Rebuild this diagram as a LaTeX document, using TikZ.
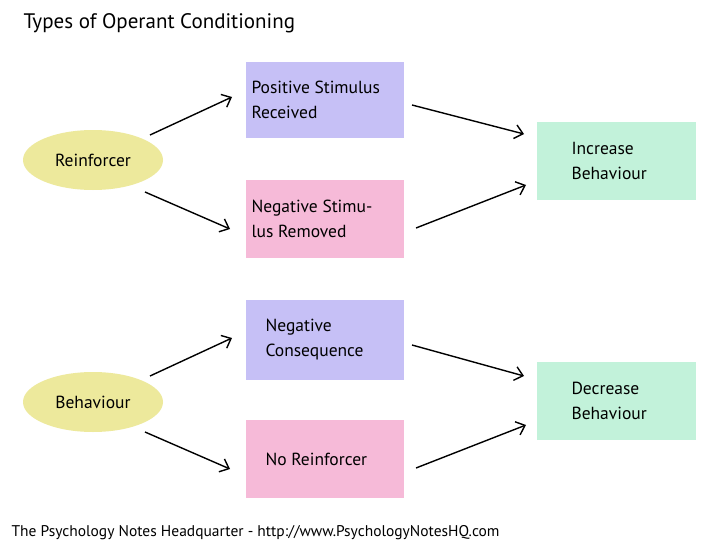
\documentclass[tikz,border=0pt]{standalone}
\usepackage{fontspec}
\setmainfont{PT Sans}
\usetikzlibrary{shapes.geometric,arrows.meta}
\definecolor{yel}{HTML}{EDE99C}
\definecolor{lav}{HTML}{C6C0F6}
\definecolor{pnk}{HTML}{F6BAD8}
\definecolor{mnt}{HTML}{C2F2DA}
\begin{document}
\begin{tikzpicture}[x=1pt,y=-1pt,
 box/.style={draw=none,minimum width=158pt,minimum height=77pt},
 ell/.style={ellipse,fill=yel,minimum width=140pt,minimum height=60pt},
 txt/.style={font=\fontsize{17.5}{25}\selectfont,align=left,anchor=west},
 arr/.style={draw,line width=1.4pt,-{Straight Barb[length=8pt,width=14pt]}}]
\useasboundingbox[fill=white] (0,0) rectangle (720,551);
\node[anchor=west,font=\fontsize{21}{24}\selectfont] (title) at (20,23) {Types of Operant Conditioning};
% top
\node[ell] (reinf) at (93,160) {};
\node[txt,anchor=center] (reinft) at (93,160) {Reinforcer};
\fill[lav] (246,62) rectangle (404,138); \node[box] (pos) at (325,100) {};
\node[txt] (post) at (248,100) {Positive Stimulus\\Received};
\fill[pnk] (246,180) rectangle (404,258); \node[box] (neg) at (325,219) {};
\node[txt] (negt) at (248,219) {Negative Stimu-\\lus Removed};
\fill[mnt] (537,122) rectangle (696,200); \node[box] (inc) at (616,161) {};
\node[txt] (inct) at (568,161) {Increase\\Behaviour};
% bottom
\node[ell] (beh) at (93,402) {};
\node[txt,anchor=center] (beht) at (93,402) {Behaviour};
\fill[lav] (246,300) rectangle (404,380); \node[box] (nc) at (325,340) {};
\node[txt] (nct) at (262,340) {Negative\\Consequence};
\fill[pnk] (246,420) rectangle (404,498); \node[box] (nr) at (325,459) {};
\node[txt] (nrt) at (262,459) {No Reinforcer};
\fill[mnt] (537,362) rectangle (696,440); \node[box] (dec) at (616,401) {};
\node[txt] (dect) at (568,401) {Decrease\\Behaviour};
% arrows
\coordinate (a1) at (150,135); \coordinate (b1) at (232,97);
\coordinate (a2) at (145,192); \coordinate (b2) at (230,229);
\coordinate (a3) at (412,105); \coordinate (b3) at (524,134);
\coordinate (a4) at (416,228); \coordinate (b4) at (526,185);
\coordinate (a5) at (150,376); \coordinate (b5) at (232,338);
\coordinate (a6) at (145,432); \coordinate (b6) at (230,469);
\coordinate (a7) at (412,345); \coordinate (b7) at (524,376);
\coordinate (a8) at (416,468); \coordinate (b8) at (526,425);
\foreach \i in {1,...,8} \draw[arr] (a\i) -- (b\i);
\node[anchor=west,font=\fontsize{15.5}{18}\selectfont] (foot) at (8,533) {The Psychology Notes Headquarter - http://www.PsychologyNotesHQ.com};
\end{tikzpicture}
\end{document}
